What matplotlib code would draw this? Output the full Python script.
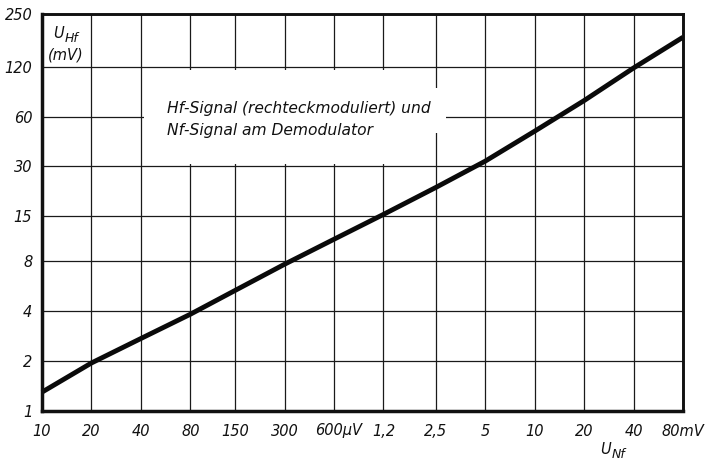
import matplotlib
matplotlib.use("Agg")
import matplotlib.pyplot as plt
from matplotlib.patches import Rectangle
from matplotlib.transforms import ScaledTranslation

# Demodulator characteristic: Hf signal vs. Nf signal (x in microvolts, y in millivolts)
u_nf_uv = [10, 20, 40, 80, 150, 300, 600, 1200, 2500, 5000, 10000, 20000, 40000, 80000]
u_hf_mv = [1.3, 1.95, 2.74, 3.84, 5.35, 7.7, 10.9, 15.4, 22.4, 32.3, 49, 75, 118, 181]

x_ticks = [10, 20, 40, 80, 150, 300, 600, 1200, 2500, 5000, 10000, 20000, 40000, 80000]
x_tick_labels = ["10", "20", "40", "80", "150", "300", "600\u03bcV", "1,2", "2,5",
                 "5", "10", "20", "40", "80mV"]
y_ticks = [1, 2, 4, 8, 15, 30, 60, 120, 250]
y_tick_labels = ["1", "2", "4", "8", "15", "30", "60", "120", "250"]

W, H = 709, 462
fig = plt.figure(figsize=(W / 100, H / 100), dpi=100)
ax = fig.add_axes([42 / W, 1 - 411 / H, (683 - 42) / W, (411 - 14) / H])

ax.set_xscale("log")
ax.set_yscale("log")
ax.set_xlim(10, 80000)
ax.set_ylim(1, 250)

ax.set_xticks(x_ticks)
ax.set_xticklabels(x_tick_labels)
ax.set_yticks(y_ticks)
ax.set_yticklabels(y_tick_labels)
ax.minorticks_off()

ink = "#111111"
font = dict(family="DejaVu Sans", style="italic", size=10.5, color=ink)
sub = dict(family="DejaVu Sans", style="italic", size=9, color=ink)
for lab in ax.get_xticklabels() + ax.get_yticklabels():
    lab.set_fontfamily("DejaVu Sans")
    lab.set_fontstyle("italic")
    lab.set_fontsize(10.5)
    lab.set_color(ink)
ax.tick_params(axis="both", length=0)
ax.tick_params(axis="x", pad=9)
ax.tick_params(axis="y", pad=7)

# shift the "600µV" label so the number sits under its grid line
lab600 = ax.get_xticklabels()[6]
lab600.set_transform(lab600.get_transform() + ScaledTranslation(5 / 100, 0, fig.dpi_scale_trans))

ax.grid(True, which="major", color="#1a1a1a", linewidth=0.9)
ax.set_axisbelow(True)

for side in ["left", "bottom"]:
    ax.spines[side].set_linewidth(2.5)
for side in ["top", "right"]:
    ax.spines[side].set_linewidth(2.1)
for sp in ax.spines.values():
    sp.set_color(ink)
    sp.set_zorder(5)

# blank area behind the caption
ax.add_patch(Rectangle((42, 31), 2400 - 42, 115 - 31, facecolor="white",
                       edgecolor="none", zorder=1.5))
ax.add_patch(Rectangle((2400, 48), 2900 - 2400, 89 - 48, facecolor="white",
                       edgecolor="none", zorder=1.5))

ax.plot(u_nf_uv, u_hf_mv, color="#0a0a0a", linewidth=3.5,
        solid_capstyle="butt", zorder=4, clip_on=False)

# caption
cap = dict(font, size=11.2)
fig.text(167 / W, 1 - 108 / H, "Hf-Signal (rechteckmoduliert) und", ha="left",
         va="center", **cap)
fig.text(167 / W, 1 - 131 / H, "Nf-Signal am Demodulator", ha="left",
         va="center", **cap)

# axis labels
fig.text(53 / W, 1 - 33 / H, "U", ha="left", va="center", **font)
fig.text(65 / W, 1 - 38 / H, "Hf", ha="left", va="center", **sub)
fig.text(48 / W, 1 - 55 / H, "(mV)", ha="left", va="center", **font)

fig.text(600 / W, 1 - 449 / H, "U", ha="left", va="center", **font)
fig.text(612 / W, 1 - 454 / H, "Nf", ha="left", va="center", **sub)

fig.savefig("out.png", dpi=100, facecolor="white")
